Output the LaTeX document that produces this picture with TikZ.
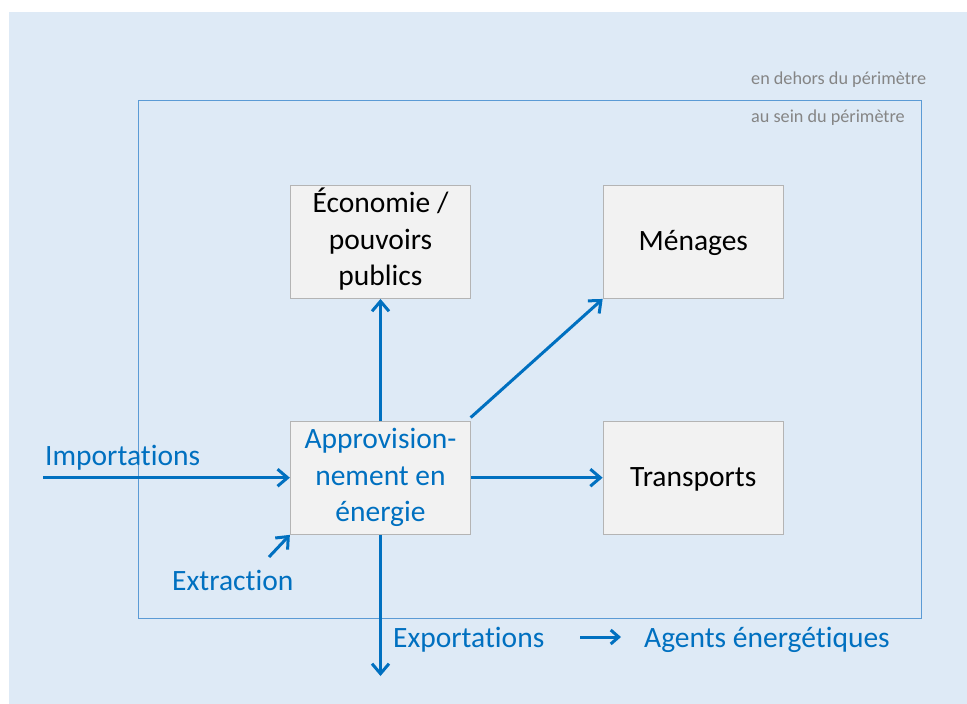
\documentclass[tikz,border=0pt]{standalone}
\usepackage{fontspec}
\setmainfont{Carlito}[Ligatures={NoCommon},RawFeature={-liga;-clig;-dlig}]
\usetikzlibrary{arrows.meta}
\definecolor{bgblue}{HTML}{DEEAF6}
\definecolor{flowblue}{HTML}{0070C0}
\definecolor{perim}{HTML}{5B9BD5}
\definecolor{boxfill}{HTML}{F2F2F2}
\definecolor{boxline}{HTML}{B4B4B4}
\definecolor{greytext}{HTML}{858585}
\newcommand{\boxstrut}{\rule[-9pt]{0pt}{36pt}}
\newcommand{\stacklines}[1]{\raisebox{-5.5pt}{\begin{tabular}{@{}c@{}}#1\end{tabular}}}
\tikzset{
  sector/.style={draw=boxline, line width=1.3pt, fill=boxfill, minimum width=180pt, minimum height=113pt, inner sep=0pt, align=center, font=\fontsize{29.5}{36.5}\selectfont, text=black, execute at begin node=\boxstrut, execute at end node=\boxstrut},
  supply/.style={sector, text=flowblue},
  flow/.style={draw=flowblue, line width=3pt, -{Straight Barb[length=10pt,width=17pt]}},
  flowlabel/.style={anchor=base west, inner sep=0pt, text=flowblue, font=\fontsize{29.5}{36}\selectfont},
  smalllabel/.style={anchor=base west, inner sep=0pt, text=greytext, font=\fontsize{18.2}{22}\selectfont}
}
\begin{document}
\begin{tikzpicture}[x=1pt,y=-1pt]
\useasboundingbox (0,0) rectangle (967,704);
\fill[bgblue] (9,12) rectangle (967,704);
\draw[perim, line width=1.4pt] (138.5,100.5) rectangle (921.5,618.5);
\node[smalllabel] (outside) at (751,84) {en dehors du périmètre};
\node[smalllabel] (inside) at (751,122.5) {au sein du périmètre};
\node[sector] (eco) at (380.5,241.8) {\stacklines{Économie /\\pouvoirs\\publics}};
\node[sector] (men) at (693.3,241.8) {Ménages};
\node[supply] (appro) at (380.5,477.7) {\stacklines{Approvision-\\nement en\\énergie}};
\node[sector] (trans) at (693.3,477.7) {Transports};
\coordinate (impstart) at (43,477.7);
\coordinate (extstart) at (269,557);
\coordinate (expend) at (380.5,676);
\coordinate (legstart) at (580,637);
\coordinate (legend) at (621,637);
\draw[flow] (impstart) -- (appro.west);
\draw[flow] (extstart) -- (appro.south west);
\draw[flow] (appro.south) -- (expend);
\draw[flow] (appro.north) -- (eco.south);
\draw[flow] ([xshift=-0.5pt,yshift=3pt]appro.north east) -- (men.south west);
\draw[flow] (appro.east) -- (trans.west);
\draw[flow, -{Straight Barb[length=8pt,width=14pt]}] (legstart) -- (legend);
\node[flowlabel] (implabel) at (45,465) {Importations};
\node[flowlabel] (extlabel) at (172,590) {Extraction};
\node[flowlabel] (explabel) at (393,647.5) {Exportations};
\node[flowlabel] (leglabel) at (644,647) {Agents énergétiques};
\end{tikzpicture}
\end{document}
